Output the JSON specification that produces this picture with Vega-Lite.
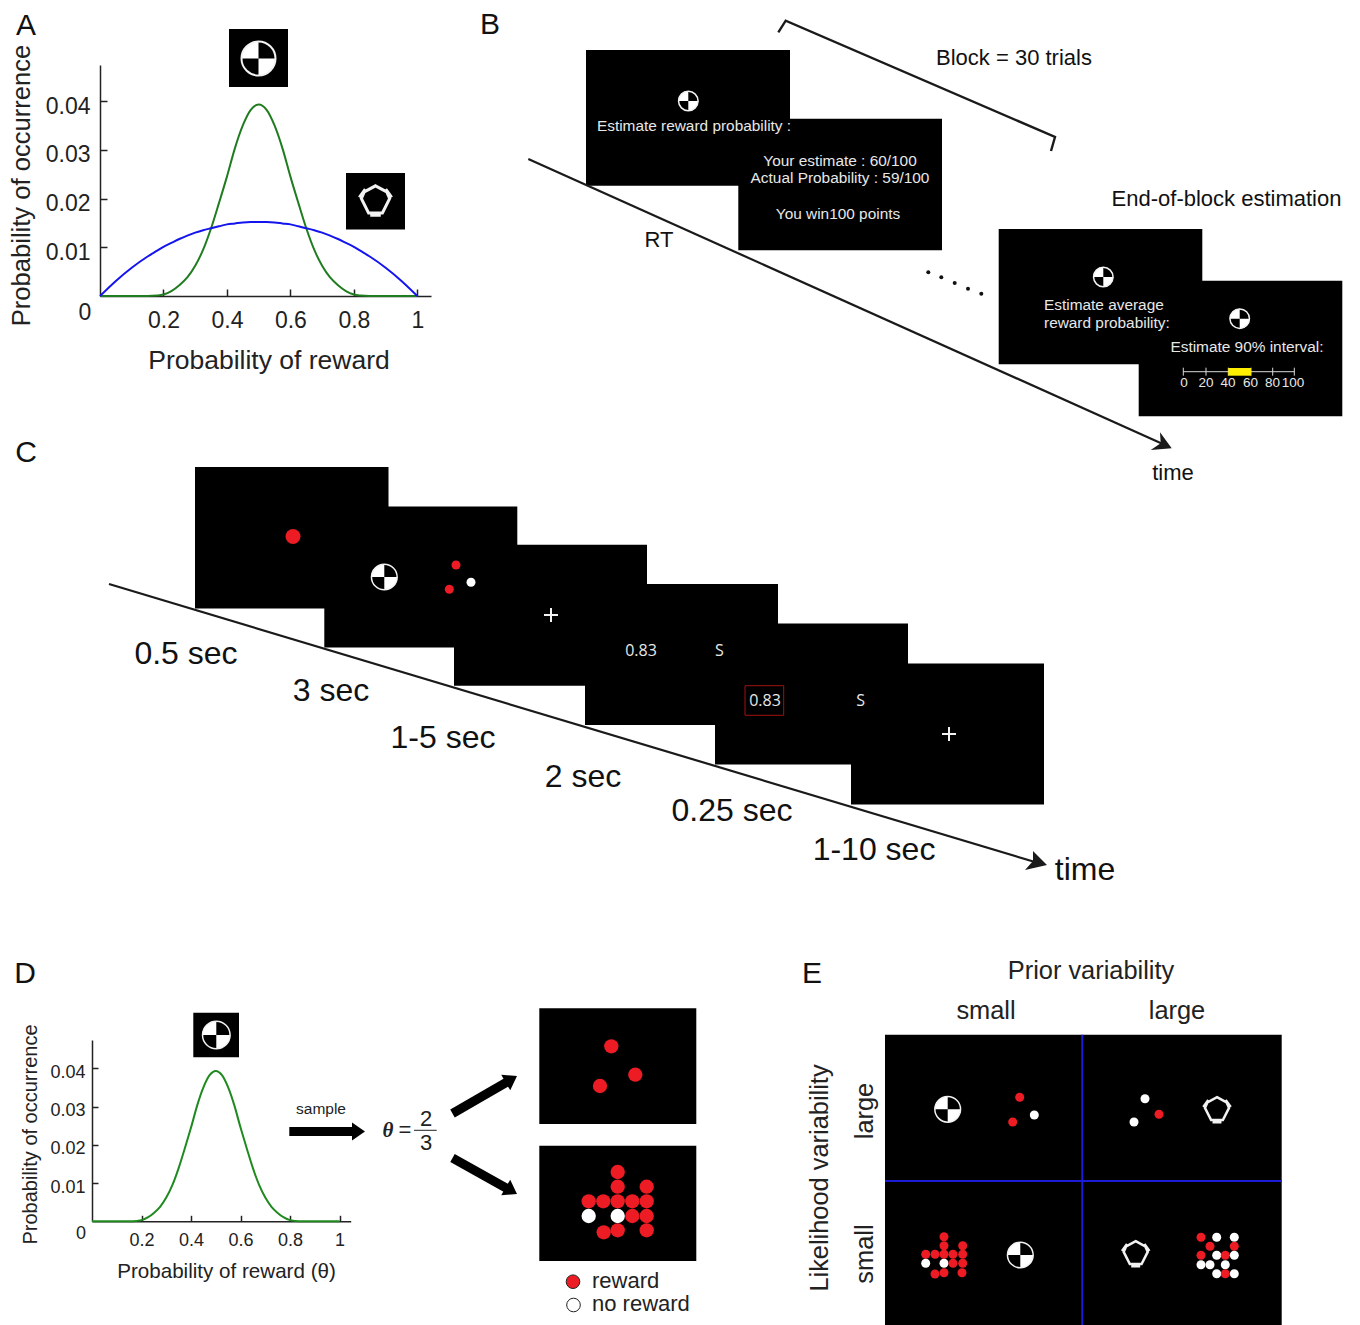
{
"$schema":"https://vega.github.io/schema/vega-lite/v6.json",
"width":1360,"height":1325,"padding":0,"autosize":{"type":"none"},"background":"white",
"config":{"view":{"stroke":null},"font":"Liberation Sans","text":{"font":"Liberation Sans"}},
"datasets":{
"screens":[
{"panel":"A","x":229,"x2":288,"y":29,"y2":87},{"panel":"A","x":346,"x2":405,"y":173,"y2":229.5},
{"panel":"B","x":586,"x2":790,"y":50,"y2":185.7},{"panel":"B","x":738.3,"x2":942,"y":118.7,"y2":250.3},{"panel":"B","x":998.7,"x2":1202.3,"y":229,"y2":364.3},{"panel":"B","x":1138.7,"x2":1342.3,"y":280.7,"y2":416.3},
{"panel":"C","x":195,"x2":388.5,"y":467,"y2":608.5},{"panel":"C","x":324.3,"x2":517.3,"y":506.5,"y2":647.5},{"panel":"C","x":454,"x2":647,"y":544.7,"y2":685.7},{"panel":"C","x":585,"x2":778,"y":584,"y2":725},{"panel":"C","x":715,"x2":908,"y":623.5,"y2":764.5},{"panel":"C","x":851,"x2":1044,"y":663.5,"y2":804.5},
{"panel":"D","x":193.3,"x2":239,"y":1012.7,"y2":1057.3},{"panel":"D","x":539.3,"x2":696.3,"y":1008.3,"y2":1124},{"panel":"D","x":539.3,"x2":696.3,"y":1145.7,"y2":1261},
{"panel":"E","x":885,"x2":1281.7,"y":1034.7,"y2":1325}],
"dotsC1":[{"x":293,"y":536.5,"o":"reward"}],
"dotsD":[{"x":611.3,"y":1046.3,"o":"reward"},{"x":635.3,"y":1074.7,"o":"reward"},{"x":600,"y":1086,"o":"reward"},
{"x":617.7,"y":1172,"o":"reward"},{"x":617.7,"y":1186.7,"o":"reward"},{"x":646.7,"y":1186.7,"o":"reward"},
{"x":588.7,"y":1201.3,"o":"reward"},{"x":603.3,"y":1201.3,"o":"reward"},{"x":617.7,"y":1201.3,"o":"reward"},{"x":632.3,"y":1201.3,"o":"reward"},{"x":646.7,"y":1201.3,"o":"reward"},
{"x":588.7,"y":1216,"o":"none"},{"x":617.7,"y":1216,"o":"none"},{"x":632.3,"y":1216,"o":"reward"},{"x":646.7,"y":1216,"o":"reward"},
{"x":603.7,"y":1232.3,"o":"reward"},{"x":617.7,"y":1230.3,"o":"reward"},{"x":646.7,"y":1230.3,"o":"reward"}],
"dotsSmall":[{"x":456,"y":565,"o":"reward"},{"x":449.3,"y":589.3,"o":"reward"},{"x":471,"y":582.3,"o":"none"},
{"x":1019.7,"y":1097.3,"o":"reward"},{"x":1012.7,"y":1122,"o":"reward"},{"x":1034.3,"y":1115,"o":"none"},
{"x":1145,"y":1098.7,"o":"none"},{"x":1159,"y":1114.3,"o":"reward"},{"x":1134,"y":1122,"o":"none"},
{"x":944,"y":1236.7,"o":"reward"},{"x":944,"y":1245.7,"o":"reward"},{"x":962.7,"y":1245.7,"o":"reward"},
{"x":925.7,"y":1254.3,"o":"reward"},{"x":935,"y":1254.3,"o":"reward"},{"x":944,"y":1254.3,"o":"reward"},{"x":953,"y":1254.3,"o":"reward"},{"x":962.7,"y":1254.3,"o":"reward"},
{"x":925.7,"y":1263.3,"o":"none"},{"x":944,"y":1263.3,"o":"none"},{"x":953,"y":1263.3,"o":"reward"},{"x":962.7,"y":1263.3,"o":"reward"},
{"x":935,"y":1274,"o":"reward"},{"x":944,"y":1272.7,"o":"reward"},{"x":962,"y":1272.7,"o":"reward"},
{"x":1201,"y":1237.3,"o":"reward"},{"x":1216.7,"y":1237.3,"o":"none"},{"x":1234.3,"y":1237.3,"o":"none"},{"x":1210,"y":1246.3,"o":"reward"},{"x":1234.3,"y":1246.3,"o":"reward"},
{"x":1201,"y":1255.3,"o":"reward"},{"x":1216.7,"y":1255.3,"o":"none"},{"x":1225.3,"y":1255.3,"o":"reward"},{"x":1234.3,"y":1255.3,"o":"none"},
{"x":1201,"y":1264.7,"o":"none"},{"x":1210,"y":1264.7,"o":"none"},{"x":1225.3,"y":1264.7,"o":"none"},
{"x":1216.7,"y":1273.7,"o":"none"},{"x":1225.3,"y":1273.7,"o":"reward"},{"x":1234.3,"y":1273.7,"o":"none"}],
"legendDots":[{"x":573,"y":1281.7,"o":"reward"},{"x":573.5,"y":1305,"o":"none"}],
"iconA":[{"x":258.5,"y":58.5}],
"iconD":[{"x":216.3,"y":1035}],
"iconB":[{"x":688.3,"y":101},{"x":1103.3,"y":277},{"x":1239.7,"y":318.7}],
"iconCE":[{"x":384.3,"y":577},{"x":947.7,"y":1109.3},{"x":1020.3,"y":1255}],
"hexA":[{"x":375.5,"y":201}],
"hexE":[{"x":1217,"y":1110},{"x":1135.7,"y":1254}],
"timeDots":[{"x":928.3,"y":272.3},{"x":941.3,"y":277.3},{"x":954.7,"y":283},{"x":968,"y":288.7},{"x":981.3,"y":293.7}],
"bracket":[{"x":778.3,"y":32.3,"s":1},{"x":785.7,"y":20.7,"s":2},{"x":1055,"y":137,"s":3},{"x":1051,"y":151,"s":4}],
"timelines":[{"x":528.3,"y":159,"x2":1165,"y2":445},{"x":109,"y":584,"x2":1040,"y2":863.5}],
"scaleLine":[{"x":1183.3,"y":371.7,"x2":1294.3,"y2":371.7},
{"x":1183.3,"y":367.7,"x2":1183.3,"y2":375.7},{"x":1206,"y":367.7,"x2":1206,"y2":375.7},{"x":1228.3,"y":367.7,"x2":1228.3,"y2":375.7},{"x":1251,"y":367.7,"x2":1251,"y2":375.7},{"x":1272.7,"y":367.7,"x2":1272.7,"y2":375.7},{"x":1294.3,"y":367.7,"x2":1294.3,"y2":375.7}],
"dividers":[{"x":1082.3,"y":1034.7,"x2":1082.3,"y2":1325},{"x":885,"y":1181,"x2":1281.7,"y2":1181}],
"fatArrows":[{"x":289.3,"y":1131.5,"x2":354,"y2":1131.5},{"x":452.5,"y":1113.5,"x2":507,"y2":1082},{"x":452.5,"y":1158,"x2":507,"y2":1188.5}],
"fraction":[{"x":414,"y":1130.3,"x2":436.7,"y2":1130.3}],
"curveA":[{"p":0,"g":0,"b":0},{"p":0.05,"g":0,"b":0.0031},{"p":0.1,"g":0,"b":0.0058},{"p":0.15,"g":0,"b":0.0081},{"p":0.18,"g":0.0001,"b":0.0093},{"p":0.2,"g":0.0003,"b":0.0101},{"p":0.225,"g":0.001,"b":0.0109},{"p":0.25,"g":0.0022,"b":0.0117},{"p":0.275,"g":0.0038,"b":0.0124},{"p":0.3,"g":0.0062,"b":0.013},{"p":0.325,"g":0.0095,"b":0.0135},{"p":0.35,"g":0.0139,"b":0.0139},{"p":0.375,"g":0.0191,"b":0.0143},{"p":0.4,"g":0.0245,"b":0.0147},{"p":0.425,"g":0.0303,"b":0.0149},{"p":0.45,"g":0.035,"b":0.0151},{"p":0.475,"g":0.0382,"b":0.0152},{"p":0.5,"g":0.0393,"b":0.0152},{"p":0.525,"g":0.0382,"b":0.0152},{"p":0.55,"g":0.035,"b":0.0151},{"p":0.575,"g":0.0303,"b":0.0149},{"p":0.6,"g":0.0245,"b":0.0147},{"p":0.625,"g":0.0191,"b":0.0143},{"p":0.65,"g":0.0139,"b":0.0139},{"p":0.675,"g":0.0095,"b":0.0135},{"p":0.7,"g":0.0062,"b":0.013},{"p":0.725,"g":0.0038,"b":0.0124},{"p":0.75,"g":0.0022,"b":0.0117},{"p":0.775,"g":0.001,"b":0.0109},{"p":0.8,"g":0.0003,"b":0.0101},{"p":0.82,"g":0.0001,"b":0.0093},{"p":0.85,"g":0,"b":0.0081},{"p":0.9,"g":0,"b":0.0058},{"p":0.95,"g":0,"b":0.0031},{"p":1,"g":0,"b":0}]
},
"resolve":{"scale":{"x":"independent","y":"independent","color":"independent"},"axis":{"x":"independent","y":"independent"}},
"layer":[
{
"encoding":{
"x":{"field":"x","type":"quantitative","scale":{"domain":[0,1360],"nice":false,"zero":false},"axis":null},
"y":{"field":"y","type":"quantitative","scale":{"domain":[1325,0],"nice":false,"zero":false},"axis":null}
},
"layer":[
{"data":{"name":"screens"},"mark":{"type":"rect","fill":"#000000"},"encoding":{"x2":{"field":"x2"},"y2":{"field":"y2"}}},
{"data":{"name":"dividers"},"mark":{"type":"rule","stroke":"#1c1cd6","strokeWidth":2},"encoding":{"x2":{"field":"x2"},"y2":{"field":"y2"}}},
{"data":{"name":"timelines"},"mark":{"type":"rule","stroke":"#1a1a1a","strokeWidth":2.2},"encoding":{"x2":{"field":"x2"},"y2":{"field":"y2"}}},
{"data":{"values":[{"x":1171.7,"y":448.3}]},"mark":{"type":"point","shape":"M0,0 L-1.17,-1.6 L-1.1,-0.5 L-2.1,0.17 Z","size":400,"filled":true,"fill":"#1a1a1a","stroke":null,"opacity":1}},
{"data":{"values":[{"x":1047,"y":865}]},"mark":{"type":"point","shape":"M0,0 L-1.4,-1.4 L-1.4,-0.4 L-2.2,0.5 Z","size":400,"filled":true,"fill":"#1a1a1a","stroke":null,"opacity":1}},
{"data":{"name":"bracket"},"mark":{"type":"line","stroke":"#1a1a1a","strokeWidth":2.4},"encoding":{"order":{"field":"s","type":"quantitative"}}},
{"data":{"name":"timeDots"},"mark":{"type":"circle","size":16,"fill":"#111111","opacity":1}},
{"data":{"name":"fatArrows"},"mark":{"type":"rule","stroke":"#000000","strokeWidth":9},"encoding":{"x2":{"field":"x2"},"y2":{"field":"y2"}}},
{"data":{"values":[{"x":365,"y":1131.5}]},"mark":{"type":"point","shape":"M0,0 L-1.3,-0.9 L-1.3,0.9 Z","size":400,"filled":true,"fill":"#000000","stroke":null,"opacity":1}},
{"data":{"values":[{"x":517,"y":1076}]},"mark":{"type":"point","shape":"M0,0 L-1.3,-0.9 L-1.3,0.9 Z","size":400,"angle":-30,"filled":true,"fill":"#000000","stroke":null,"opacity":1}},
{"data":{"values":[{"x":517,"y":1194}]},"mark":{"type":"point","shape":"M0,0 L-1.3,-0.9 L-1.3,0.9 Z","size":400,"angle":30,"filled":true,"fill":"#000000","stroke":null,"opacity":1}},
{"data":{"name":"fraction"},"mark":{"type":"rule","stroke":"#222222","strokeWidth":1},"encoding":{"x2":{"field":"x2"},"y2":{"field":"y2"}}},
{"data":{"name":"scaleLine"},"mark":{"type":"rule","stroke":"#d8d8d8","strokeWidth":1},"encoding":{"x2":{"field":"x2"},"y2":{"field":"y2"}}},
{"data":{"values":[{"x":1228.3,"x2":1251,"y":368,"y2":375.7}]},"mark":{"type":"rect","fill":"#ffee00"},"encoding":{"x2":{"field":"x2"},"y2":{"field":"y2"}}},
{"data":{"values":[{"x":745,"x2":783.7,"y":685.7,"y2":715.3}]},"mark":{"type":"rect","fill":null,"stroke":"#a01010","strokeWidth":1},"encoding":{"x2":{"field":"x2"},"y2":{"field":"y2"}}},
{"data":{"values":[{"x":551,"y":615},{"x":949,"y":734}]},"mark":{"type":"point","shape":"M-1,0 L1,0 M0,-1 L0,1","size":196,"filled":false,"stroke":"#f2f2f2","strokeWidth":2,"opacity":1}},

{"data":{"name":"dotsC1"},"mark":{"type":"circle","size":225,"opacity":1},"encoding":{"color":{"field":"o","type":"nominal","scale":{"domain":["reward","none"],"range":["#ed1c24","#ffffff"]},"legend":null}}},
{"data":{"name":"dotsD"},"mark":{"type":"circle","size":205,"opacity":1},"encoding":{"color":{"field":"o","type":"nominal","scale":{"domain":["reward","none"],"range":["#ed1c24","#ffffff"]},"legend":null}}},
{"data":{"name":"dotsSmall"},"mark":{"type":"circle","size":81,"opacity":1},"encoding":{"color":{"field":"o","type":"nominal","scale":{"domain":["reward","none"],"range":["#ed1c24","#ffffff"]},"legend":null}}},
{"data":{"name":"legendDots"},"mark":{"type":"circle","size":185,"opacity":1,"stroke":"#222222","strokeWidth":1},"encoding":{"color":{"field":"o","type":"nominal","scale":{"domain":["reward","none"],"range":["#ed1c24","#ffffff"]},"legend":null}}},

{"data":{"name":"iconA"},"mark":{"type":"point","shape":"M0,0 L0,-1 A1,1 0 0 0 -1,0 Z M0,0 L0,1 A1,1 0 0 0 1,0 Z","size":1190,"filled":true,"fill":"#ffffff","stroke":null,"opacity":1}},
{"data":{"name":"iconA"},"mark":{"type":"point","shape":"circle","size":1156,"filled":false,"stroke":"#f2f2f2","strokeWidth":2,"opacity":1}},
{"data":{"name":"iconD"},"mark":{"type":"point","shape":"M0,0 L0,-1 A1,1 0 0 0 -1,0 Z M0,0 L0,1 A1,1 0 0 0 1,0 Z","size":784,"filled":true,"fill":"#ffffff","stroke":null,"opacity":1}},
{"data":{"name":"iconD"},"mark":{"type":"point","shape":"circle","size":760,"filled":false,"stroke":"#f2f2f2","strokeWidth":1.5,"opacity":1}},
{"data":{"name":"iconB"},"mark":{"type":"point","shape":"M0,0 L0,-1 A1,1 0 0 0 -1,0 Z M0,0 L0,1 A1,1 0 0 0 1,0 Z","size":400,"filled":true,"fill":"#ffffff","stroke":null,"opacity":1}},
{"data":{"name":"iconB"},"mark":{"type":"point","shape":"circle","size":380,"filled":false,"stroke":"#f2f2f2","strokeWidth":1.5,"opacity":1}},
{"data":{"name":"iconCE"},"mark":{"type":"point","shape":"M0,0 L0,-1 A1,1 0 0 0 -1,0 Z M0,0 L0,1 A1,1 0 0 0 1,0 Z","size":676,"filled":true,"fill":"#ffffff","stroke":null,"opacity":1}},
{"data":{"name":"iconCE"},"mark":{"type":"point","shape":"circle","size":660,"filled":false,"stroke":"#f2f2f2","strokeWidth":1.5,"opacity":1}},
{"data":{"name":"hexA"},"mark":{"type":"point","shape":"M0,-0.92 L0.68,-0.55 L0.86,-0.15 L0.42,0.72 L-0.42,0.72 L-0.86,-0.15 L-0.68,-0.55 Z M0.62,-0.72 L0.98,-0.22 M-0.62,-0.72 L-0.98,-0.22 M-0.32,0.86 L0.32,0.86","size":1089,"filled":false,"stroke":"#f2f2f2","strokeWidth":3,"opacity":1}},
{"data":{"name":"hexE"},"mark":{"type":"point","shape":"M0,-0.92 L0.68,-0.55 L0.86,-0.15 L0.42,0.72 L-0.42,0.72 L-0.86,-0.15 L-0.68,-0.55 Z M0.62,-0.72 L0.98,-0.22 M-0.62,-0.72 L-0.98,-0.22 M-0.32,0.88 L0.32,0.88","size":784,"filled":false,"stroke":"#f2f2f2","strokeWidth":2.5,"opacity":1}},

{"data":{"values":[{"x":26,"y":26,"t":"A"},{"x":490,"y":25,"t":"B"},{"x":26,"y":453,"t":"C"},{"x":25,"y":974,"t":"D"},{"x":812,"y":974,"t":"E"}]},"mark":{"type":"text","fontSize":30,"fill":"#111111","baseline":"middle"},"encoding":{"text":{"field":"t"}}},
{"data":{"values":[{"x":1014,"y":58,"t":"Block = 30 trials"},{"x":1226.5,"y":199,"t":"End-of-block estimation"},{"x":659,"y":240,"t":"RT"},{"x":1173,"y":473,"t":"time"}]},"mark":{"type":"text","fontSize":22,"fill":"#111111","baseline":"middle"},"encoding":{"text":{"field":"t"}}},
{"data":{"values":[{"x":694,"y":126,"t":"Estimate reward probability :"},{"x":840,"y":160.5,"t":"Your estimate : 60/100"},{"x":840,"y":178,"t":"Actual Probability : 59/100"},{"x":838,"y":213.5,"t":"You win100 points"},{"x":1247,"y":346.5,"t":"Estimate 90% interval:"}]},"mark":{"type":"text","fontSize":15.4,"fill":"#e8e8e8","baseline":"middle"},"encoding":{"text":{"field":"t"}}},
{"data":{"values":[{"x":1044,"y":305,"t":"Estimate average"},{"x":1044,"y":322.5,"t":"reward probability:"}]},"mark":{"type":"text","fontSize":15.4,"fill":"#e8e8e8","baseline":"middle","align":"left"},"encoding":{"text":{"field":"t"}}},
{"data":{"values":[{"x":1184,"y":383,"t":"0"},{"x":1206,"y":383,"t":"20"},{"x":1228,"y":383,"t":"40"},{"x":1250.5,"y":383,"t":"60"},{"x":1272.5,"y":383,"t":"80"},{"x":1293,"y":383,"t":"100"}]},"mark":{"type":"text","fontSize":13.5,"fill":"#e8e8e8","baseline":"middle"},"encoding":{"text":{"field":"t"}}},
{"data":{"values":[{"x":186,"y":653.5,"t":"0.5 sec"},{"x":331,"y":690.5,"t":"3 sec"},{"x":443,"y":737.5,"t":"1-5 sec"},{"x":583,"y":776.5,"t":"2 sec"},{"x":732,"y":810.5,"t":"0.25 sec"},{"x":874,"y":849.5,"t":"1-10 sec"},{"x":1085,"y":869.5,"t":"time"}]},"mark":{"type":"text","fontSize":32,"fill":"#111111","baseline":"middle"},"encoding":{"text":{"field":"t"}}},
{"data":{"values":[{"x":641,"y":651,"t":"0.83"},{"x":719.5,"y":651,"t":"S"},{"x":765,"y":701,"t":"0.83"},{"x":860.7,"y":701,"t":"S"}]},"mark":{"type":"text","font":"Open Sans","fontSize":16,"fill":"#e8e8e8","baseline":"middle"},"encoding":{"text":{"field":"t"}}},
{"data":{"values":[{"x":85,"y":313,"t":"0"}]},"mark":{"type":"text","fontSize":23,"fill":"#222222","baseline":"middle"},"encoding":{"text":{"field":"t"}}},
{"data":{"values":[{"x":81,"y":1234,"t":"0"}]},"mark":{"type":"text","fontSize":18,"fill":"#222222","baseline":"middle"},"encoding":{"text":{"field":"t"}}},
{"data":{"values":[{"x":321,"y":1109,"t":"sample"}]},"mark":{"type":"text","fontSize":15.5,"fill":"#222222","baseline":"middle"},"encoding":{"text":{"field":"t"}}},
{"data":{"values":[{"x":388,"y":1131,"t":"θ"}]},"mark":{"type":"text","font":"Liberation Serif","fontStyle":"italic","fontWeight":"bold","fontSize":21,"fill":"#222222","baseline":"middle"},"encoding":{"text":{"field":"t"}}},
{"data":{"values":[{"x":405,"y":1130,"t":"="},{"x":426,"y":1119,"t":"2"},{"x":426,"y":1143,"t":"3"}]},"mark":{"type":"text","fontSize":22,"fill":"#222222","baseline":"middle"},"encoding":{"text":{"field":"t"}}},
{"data":{"values":[{"x":592,"y":1280.5,"t":"reward"},{"x":592,"y":1304,"t":"no reward"}]},"mark":{"type":"text","fontSize":22,"fill":"#222222","baseline":"middle","align":"left"},"encoding":{"text":{"field":"t"}}},
{"data":{"values":[{"x":1091,"y":971,"t":"Prior variability"},{"x":986,"y":1011,"t":"small"},{"x":1177,"y":1011,"t":"large"}]},"mark":{"type":"text","fontSize":25.4,"fill":"#222222","baseline":"middle"},"encoding":{"text":{"field":"t"}}},
{"data":{"values":[{"x":820,"y":1178,"t":"Likelihood variability"},{"x":865,"y":1111,"t":"large"},{"x":865,"y":1254,"t":"small"}]},"mark":{"type":"text","fontSize":25.4,"angle":270,"fill":"#222222","baseline":"middle"},"encoding":{"text":{"field":"t"}}}
]
},
{
"data":{"name":"curveA"},
"encoding":{
"x":{"field":"p","type":"quantitative","scale":{"domain":[0,1.043],"range":[100,431],"nice":false,"zero":false},
 "axis":{"orient":"bottom","offset":-1029,"values":[0.2,0.4,0.6,0.8,1],"format":".1~f","grid":false,"tickSize":-7,"tickColor":"#222222","tickWidth":1.5,"domainColor":"#222222","domainWidth":1.5,"labelFontSize":23,"labelColor":"#222222","labelPadding":20,"labelFlush":false,"labelOverlap":false,"title":"Probability of reward","titleFontSize":26.5,"titleFontWeight":"normal","titleColor":"#222222","titleX":268.5,"titleY":64,"titleBaseline":"middle"}},
"y":{"field":"g","type":"quantitative","scale":{"domain":[0,0.0474],"range":[296,65],"nice":false,"zero":false},
 "axis":{"orient":"left","offset":-100,"values":[0.01,0.02,0.03,0.04],"format":".2f","grid":false,"tickSize":-7,"tickColor":"#222222","tickWidth":1.5,"domainColor":"#222222","domainWidth":1.5,"labelFontSize":23,"labelColor":"#222222","labelPadding":17,"labelOffset":5,"labelFlush":false,"labelOverlap":false,"title":"Probability of occurrence","titleFontSize":25.6,"titleFontWeight":"normal","titleColor":"#222222","titleX":-79,"titleY":185,"titleBaseline":"middle"}}
},
"layer":[
{"mark":{"type":"line","stroke":"#1f7d1f","strokeWidth":2,"interpolate":"monotone"}},
{"mark":{"type":"line","stroke":"#1414ee","strokeWidth":2,"interpolate":"monotone"},"encoding":{"y":{"field":"b","type":"quantitative"}}}
]
},
{
"data":{"name":"curveA"},
"mark":{"type":"line","stroke":"#1f8a1f","strokeWidth":2,"interpolate":"monotone"},
"encoding":{
"x":{"field":"p","type":"quantitative","scale":{"domain":[0,1.045],"range":[92,350.7],"nice":false,"zero":false},
 "axis":{"orient":"bottom","offset":-103.7,"values":[0.2,0.4,0.6,0.8,1],"format":".1~f","grid":false,"tickSize":-6,"tickColor":"#222222","tickWidth":1.5,"domainColor":"#222222","domainWidth":1.5,"labelFontSize":18,"labelColor":"#222222","labelPadding":16,"labelFlush":false,"labelOverlap":false,"title":"Probability of reward (θ)","titleFontSize":20.6,"titleFontWeight":"normal","titleColor":"#222222","titleX":226,"titleY":50,"titleBaseline":"middle"}},
"y":{"field":"g","type":"quantitative","scale":{"domain":[0,0.0474],"range":[1221.3,1040],"nice":false,"zero":false},
 "axis":{"orient":"left","offset":-92,"values":[0.01,0.02,0.03,0.04],"format":".2f","grid":false,"tickSize":-6,"tickColor":"#222222","tickWidth":1.5,"domainColor":"#222222","domainWidth":1.5,"labelFontSize":18,"labelColor":"#222222","labelPadding":13,"labelOffset":4,"labelFlush":false,"labelOverlap":false,"title":"Probability of occurrence","titleFontSize":20,"titleFontWeight":"normal","titleColor":"#222222","titleX":-62,"titleY":1134,"titleBaseline":"middle"}}
}
}
]
}
